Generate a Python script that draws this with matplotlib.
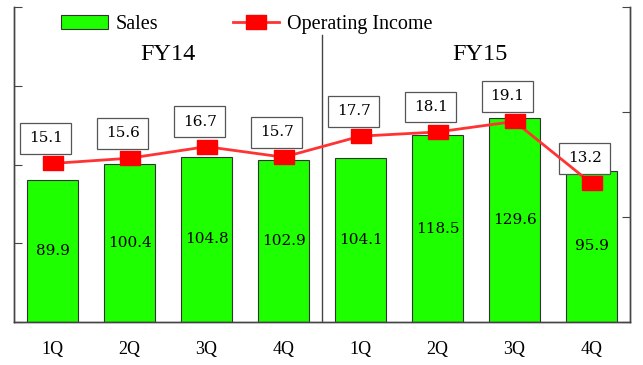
import numpy as np
import matplotlib
matplotlib.use('Agg')
import matplotlib.pyplot as plt

quarters = ['1Q', '2Q', '3Q', '4Q', '1Q', '2Q', '3Q', '4Q']
sales = [89.9, 100.4, 104.8, 102.9, 104.1, 118.5, 129.6, 95.9]
op_income = [15.1, 15.6, 16.7, 15.7, 17.7, 18.1, 19.1, 13.2]
years = ['FY14', 'FY15']

green = '#1eff00'
red = '#ff0000'
serif = 'Liberation Serif'
num_font = 'DejaVu Serif'

fig = plt.figure(figsize=(6.43, 3.65), dpi=100)
ax = fig.add_axes([0.0218, 0.1178, 0.958, 0.863])
ax2 = ax.twinx()

x = np.arange(len(sales))
bars = ax.bar(x, sales, width=0.67, color=green, edgecolor='#333333', linewidth=0.8, label='Sales', zorder=2)
for xi, v in zip(x, sales):
    ax.text(xi, v / 2, f'{v:.1f}', ha='center', va='center', fontsize=11, family=num_font, zorder=3)

rect = [(-1.35, -1), (1.35, -1), (1.35, 1), (-1.35, 1), (-1.35, -1)]
line, = ax2.plot(x, op_income, color='#ff3333', lw=2, marker=rect, markersize=14,
                 markerfacecolor=red, markeredgecolor=red, label='Operating Income', zorder=4)
for xi, v in zip(x, op_income):
    ax2.annotate(f'{v:.1f}', (xi, v), xytext=(-5, 18), textcoords='offset points',
                 ha='center', va='center', fontsize=11, family=num_font,
                 bbox=dict(boxstyle='square,pad=0.55', fc='white', ec='#555555', lw=0.9))

ax.set_xlim(-0.5, 7.5)
ax.set_ylim(0, 200)
ax2.set_ylim(0, 30)
ax.set_yticks([0, 50, 100, 150, 200])
ax2.set_yticks([0, 10, 20, 30])
ax.set_yticklabels([])
ax2.set_yticklabels([])
ax.tick_params(axis='y', direction='in', length=6, color='#444444')
ax2.tick_params(axis='y', direction='in', length=6, color='#444444')
ax.set_xticks(x)
ax.set_xticklabels(quarters, fontsize=13, family=serif)
ax.tick_params(axis='x', length=0, pad=14)

for a in (ax, ax2):
    a.spines['top'].set_visible(False)
    for s in ('left', 'right', 'bottom'):
        a.spines[s].set_color('#444444')
        a.spines[s].set_linewidth(1)

ax.axvline(3.5, ymin=0, ymax=0.91, color='#444444', lw=1, zorder=1)
ax.text(1.5, 0.85, years[0], transform=ax.get_xaxis_transform(), ha='center', va='center',
        fontsize=17.5, family=serif)
ax.text(5.55, 0.85, years[1], transform=ax.get_xaxis_transform(), ha='center', va='center',
        fontsize=17.5, family=serif)

fig.legend([bars, line], ['Sales', 'Operating Income'], loc='upper left', bbox_to_anchor=(0.067, 1.008),
           ncol=2, frameon=False, prop={'family': serif, 'size': 14.5},
           handlelength=2.3, columnspacing=3.7, handletextpad=0.4)

fig.savefig('out.png', dpi=100)
